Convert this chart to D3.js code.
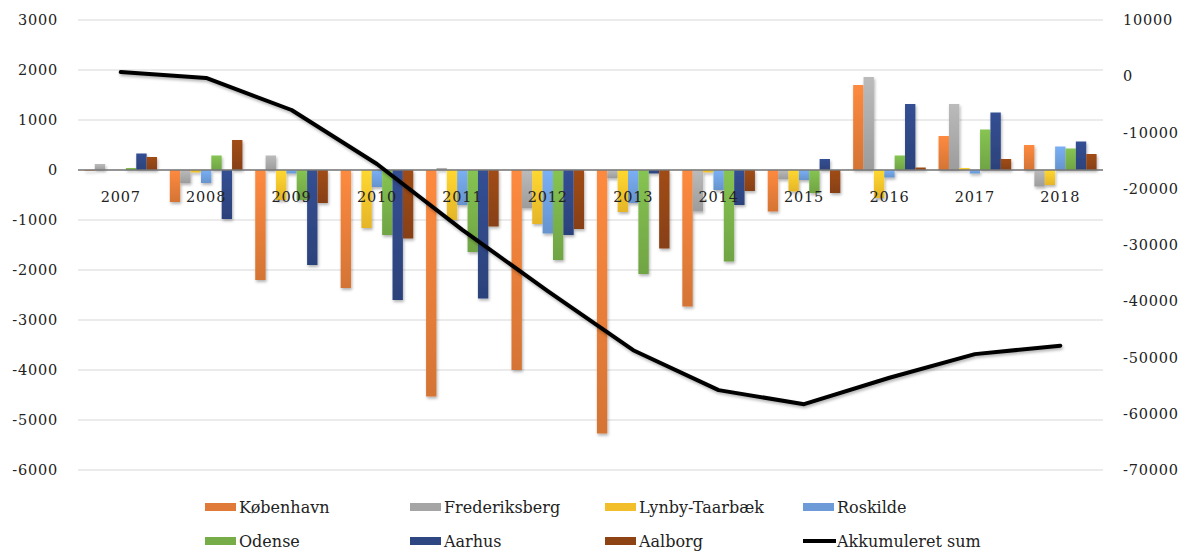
<!DOCTYPE html>
<html>
<head>
<meta charset="utf-8">
<script src="https://cdn.jsdelivr.net/npm/d3@7"></script>
<style>
  body { margin: 0; background: #fff; }
  text { font-family: "DejaVu Serif", serif; fill: #222; }
</style>
</head>
<body>
<div class="chart"></div>
<script>
var svgWidth = 1184;
var svgHeight = 551;

var margin = { top: 20, right: 81, bottom: 81, left: 78 };
var width = svgWidth - margin.left - margin.right;
var height = 470 - margin.top;

// data
var years = ["2007", "2008", "2009", "2010", "2011", "2012", "2013", "2014", "2015", "2016", "2017", "2018"];
var seriesNames = ["København", "Frederiksberg", "Lynby-Taarbæk", "Roskilde", "Odense", "Aarhus", "Aalborg"];
var seriesColors = ["#e07a38", "#a5a5a5", "#f2bf2a", "#6c9bd8", "#76ad48", "#2e4682", "#8e4315"];

var kobenhavn     = [-20, -640, -2200, -2360, -4530, -4000, -5270, -2730, -830, 1700, 680, 500];
var frederiksberg = [120, -260, 290, 0, 40, -760, -160, -830, -180, 1860, 1320, -330];
var lynby         = [0, -50, -600, -1160, -1000, -1080, -840, -50, -430, -560, 40, -300];
var roskilde      = [0, -260, -70, -340, -700, -1270, -660, -400, -200, -150, -70, 470];
var odense        = [40, 290, -600, -1300, -1640, -1800, -2080, -1830, -460, 290, 810, 430];
var aarhus        = [330, -980, -1900, -2600, -2570, -1300, -70, -700, 220, 1320, 1150, 570];
var aalborg       = [260, 600, -660, -1370, -1130, -1180, -1570, -420, -460, 50, 220, 320];
var akkumuleret   = [750, -300, -6000, -15600, -27300, -38200, -48700, -55800, -58300, -53600, -49400, -47900];

var leftTicks = [3000, 2000, 1000, 0, -1000, -2000, -3000, -4000, -5000, -6000];
var rightTicks = [10000, 0, -10000, -20000, -30000, -40000, -50000, -60000, -70000];

var seriesValues = [kobenhavn, frederiksberg, lynby, roskilde, odense, aarhus, aalborg];

// plain hyphen minus, no thousands separator
var plainFormat = d => String(d);

var svg = d3.select(".chart")
  .append("svg")
  .attr("width", svgWidth)
  .attr("height", svgHeight);

var defs = svg.append("defs");

// soft shadow like the office chart style
var shadow = defs.append("filter")
  .attr("id", "shadow")
  .attr("x", "-30%").attr("y", "-10%")
  .attr("width", "160%").attr("height", "130%");
shadow.append("feDropShadow")
  .attr("dx", 1).attr("dy", 2)
  .attr("stdDeviation", 1.5)
  .attr("flood-color", "#000")
  .attr("flood-opacity", 0.3);

seriesColors.forEach(function(c, i) {
  var g = defs.append("linearGradient")
    .attr("id", "grad" + i)
    .attr("x1", 0).attr("y1", 0).attr("x2", 0).attr("y2", 1);
  g.append("stop").attr("offset", "0%").attr("stop-color", d3.color(c).brighter(0.35));
  g.append("stop").attr("offset", "100%").attr("stop-color", d3.color(c).darker(0.15));
});

var chartGroup = svg.append("g")
  .attr("transform", `translate(${margin.left}, ${margin.top})`);

var x0 = d3.scaleBand()
  .domain(years)
  .range([0, width])
  .paddingInner(0.15)
  .paddingOuter(0.075);

var x1 = d3.scaleBand()
  .domain(d3.range(seriesNames.length))
  .range([0, x0.bandwidth()]);

var yLeft = d3.scaleLinear()
  .domain([-6000, 3000])
  .range([height, 0]);

var yRight = d3.scaleLinear()
  .domain([-70000, 10000])
  .range([height, 0]);

// gridlines
chartGroup.append("g")
  .selectAll("line")
  .data(leftTicks)
  .enter()
  .append("line")
  .attr("x1", 0)
  .attr("x2", width)
  .attr("y1", d => yLeft(d))
  .attr("y2", d => yLeft(d))
  .attr("stroke", "#e4e4e4")
  .attr("stroke-width", 1.5);

// left axis
var leftAxis = d3.axisLeft(yLeft).tickValues(leftTicks).tickSize(0).tickPadding(20).tickFormat(plainFormat);
var gLeft = chartGroup.append("g").call(leftAxis);
gLeft.select(".domain").remove();
gLeft.selectAll("text")
  .style("font-family", "DejaVu Serif")
  .style("font-size", "14.5px")
  .style("letter-spacing", "0.8px")
  .attr("fill", "#222");

// right axis
var rightAxis = d3.axisRight(yRight).tickValues(rightTicks).tickSize(0).tickPadding(20).tickFormat(plainFormat);
var gRight = chartGroup.append("g")
  .attr("transform", `translate(${width}, 0)`)
  .call(rightAxis);
gRight.select(".domain").remove();
gRight.selectAll("text")
  .style("font-family", "DejaVu Serif")
  .style("font-size", "14.5px")
  .style("letter-spacing", "0.8px")
  .attr("fill", "#222");

// bars
var barData = [];
years.forEach(function(yr, i) {
  seriesValues.forEach(function(vals, s) {
    barData.push({ year: yr, s: s, value: vals[i] });
  });
});

chartGroup.append("g")
  .attr("filter", "url(#shadow)")
  .selectAll("rect")
  .data(barData)
  .enter()
  .append("rect")
  .attr("x", d => x0(d.year) + x1(d.s))
  .attr("y", d => yLeft(Math.max(0, d.value)))
  .attr("width", x1.bandwidth())
  .attr("height", d => Math.abs(yLeft(d.value) - yLeft(0)))
  .attr("fill", d => "url(#grad" + d.s + ")");

// zero line
chartGroup.append("line")
  .attr("x1", 0)
  .attr("x2", width)
  .attr("y1", yLeft(0))
  .attr("y2", yLeft(0))
  .attr("stroke", "#777")
  .attr("stroke-width", 1.5);

// category labels sit just under the zero line
chartGroup.append("g")
  .selectAll("text")
  .data(years)
  .enter()
  .append("text")
  .attr("x", d => x0(d) + x0.bandwidth() / 2)
  .attr("y", yLeft(0) + 32)
  .attr("text-anchor", "middle")
  .style("font-size", "14.5px")
  .style("letter-spacing", "0.8px")
  .text(d => d);

// cumulative line on the right axis
var line = d3.line()
  .x((d, i) => x0(years[i]) + x0.bandwidth() / 2)
  .y(d => yRight(d));

chartGroup.append("path")
  .datum(akkumuleret)
  .attr("d", line)
  .attr("fill", "none")
  .attr("stroke", "#000")
  .attr("stroke-width", 4)
  .attr("stroke-linejoin", "round")
  .attr("stroke-linecap", "round")
  .attr("filter", "url(#shadow)");

// legend
var legendItems = seriesNames.map((n, i) => ({ name: n, color: seriesColors[i], type: "bar" }));
legendItems.push({ name: "Akkumuleret sum", color: "#000", type: "line" });
var legendCols = [205, 410, 605, 803];
var legendRows = [507, 541];

var legend = svg.append("g");
legendItems.forEach(function(item, i) {
  var lx = legendCols[i % 4];
  var ly = legendRows[Math.floor(i / 4)];
  var g = legend.append("g").attr("transform", `translate(${lx}, ${ly})`);
  if (item.type === "bar") {
    g.append("rect")
      .attr("x", 0).attr("y", -4)
      .attr("width", 31).attr("height", 8)
      .attr("fill", item.color);
  }
  else {
    g.append("line")
      .attr("x1", 0).attr("x2", 33)
      .attr("y1", 0).attr("y2", 0)
      .attr("stroke", item.color)
      .attr("stroke-width", 4);
  }
  g.append("text")
    .attr("x", 34)
    .attr("y", 0)
    .attr("dy", "0.35em")
    .style("font-size", "16px")
    .text(item.name);
});
</script>
</body>
</html>
